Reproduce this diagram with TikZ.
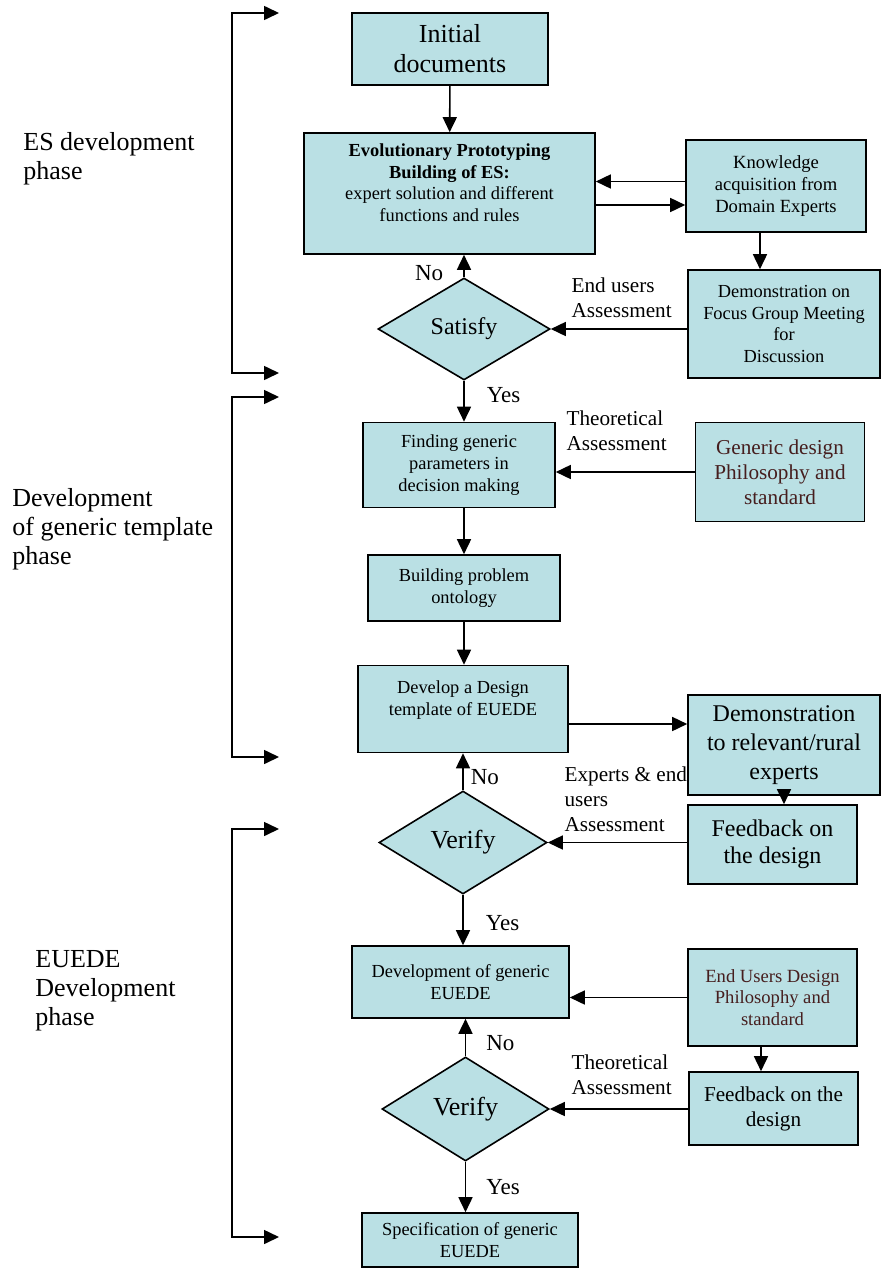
\documentclass[tikz,border=0pt]{standalone}
\usepackage{fontspec}
\setmainfont{Liberation Serif}
\usetikzlibrary{shapes.geometric,arrows.meta,positioning}
\definecolor{boxfill}{RGB}{186,224,228}
\definecolor{darkbrown}{RGB}{70,30,30}

\begin{document}
\begin{tikzpicture}[x=0.5pt,y=-0.5pt,
  box/.style={draw,line width=0.8pt,fill=boxfill,align=center,inner sep=1pt,font=\fontsize{9.2}{11}\selectfont},
  boxm/.style={box,font=\fontsize{10.6}{12.5}\selectfont},
  boxl/.style={box,font=\fontsize{12}{14.5}\selectfont},
  decide/.style={diamond,draw,line width=0.8pt,fill=boxfill,inner sep=0pt,font=\fontsize{13}{15}\selectfont},
  arr/.style={-{Triangle[width=7pt,length=7.5pt]},line width=0.8pt},
  brk/.style={{Triangle[width=7pt,length=7.5pt]}-{Triangle[width=7pt,length=7.5pt]},line width=0.8pt},
  lbl/.style={font=\fontsize{10.6}{12.5}\selectfont,inner sep=1pt,align=left},
  yn/.style={font=\fontsize{11.5}{13}\selectfont,inner sep=1pt},
  phase/.style={font=\fontsize{13}{14.5}\selectfont,align=left,anchor=north west,inner sep=0pt}
]
\useasboundingbox (0,0) rectangle (882,1269);

% ES development phase
\node[box,font=\fontsize{13}{15}\selectfont,minimum width=98pt,minimum height=36pt] (init) at (450,49) {Initial\\documents};
\node[box,font=\fontsize{9.2}{10.8}\selectfont,minimum width=145.5pt,minimum height=60.5pt] (proto) at (449.5,193.5)
  {\textbf{Evolutionary Prototyping}\\\textbf{Building of ES:}\\expert solution and different\\functions and rules\\\mbox{}};
\node[box,font=\fontsize{9.3}{10.8}\selectfont,minimum width=90pt,minimum height=46pt] (know) at (776,186) {Knowledge\\acquisition from\\Domain Experts};
\node[box,font=\fontsize{9.2}{10.8}\selectfont,minimum width=96pt,minimum height=54pt] (focus) at (784,324) {Demonstration on\\Focus Group Meeting\\for\\Discussion};
\node[decide,font=\fontsize{12}{14}\selectfont,minimum width=86pt,minimum height=51pt] (sat) at (464,329) {Satisfy};

% generic template phase
\node[box,minimum width=96pt,minimum height=42.5pt] (find) at (459,465) {Finding generic\\parameters in\\decision making};
\node[boxm,text=darkbrown,minimum width=84.5pt,minimum height=49.5pt] (gen) at (780,472) {Generic design\\Philosophy and\\standard};
\node[box,minimum width=96pt,minimum height=33pt] (onto) at (464,588) {Building problem\\ontology};
\node[box,minimum width=105pt,minimum height=43.5pt] (tmpl) at (463,709) {Develop a Design\\template of EUEDE\\\mbox{}};
\node[boxl,minimum width=96pt,minimum height=50pt] (demo) at (784,745) {Demonstration\\to relevant/rural\\experts};
\node[decide,minimum width=84pt,minimum height=51.5pt] (ver1) at (463,842.5) {Verify};
\node[boxl,font=\fontsize{12}{13.5}\selectfont,minimum width=84.5pt,minimum height=39.5pt] (fb1) at (772.5,844.5) {Feedback on\\the design};

% EUEDE development phase
\node[box,minimum width=108.5pt,minimum height=36pt] (dev) at (460.5,982) {Development of generic\\EUEDE};
\node[box,text=darkbrown,font=\fontsize{9.3}{10.6}\selectfont,minimum width=84.5pt,minimum height=48.5pt] (eud) at (772.5,997.5) {End Users Design\\Philosophy and\\standard};
\node[boxm,minimum width=84.5pt,minimum height=36.5pt] (fb2) at (773.5,1108.5) {Feedback on the\\design};
\node[decide,minimum width=83.5pt,minimum height=52pt] (ver2) at (465.5,1109) {Verify};
\node[box,minimum width=108pt,minimum height=27pt] (spec) at (470,1240) {Specification of generic\\EUEDE};

% phase labels and brackets
\node[phase] (esph) at (23,132) {ES development\\phase};
\node[phase] (genph) at (12,488) {Development\\of generic template\\phase};
\node[phase] (euph) at (35,950) {EUEDE\\Development\\phase};
\foreach \top/\bot in {13/373,397/757,829/1237}
  \draw[brk] (279,\top) -- (232,\top) -- (232,\bot) -- (279,\bot);

% connectors
\draw[arr] (init) -- (proto);
\draw[arr] ([yshift=6pt]know.west |- proto.east) -- ([yshift=6pt]proto.east);
\draw[arr] ([yshift=-5.75pt]proto.east) -- ([yshift=-5.75pt]proto.east -| know.west);
\draw[arr] ([xshift=-8pt]know.south) -- ([xshift=-8pt]know.south |- focus.north);
\draw[arr] (sat.north) -- (sat.north |- proto.south) node[yn,pos=0.17,left=9pt]{No};
\draw[arr] (focus.west |- sat.east) -- (sat.east)
  node[lbl,pos=1,anchor=south west,xshift=9pt,yshift=4pt]{End users\\Assessment};
\draw[arr] (sat.south) -- (sat.south |- find.north) node[yn,pos=0.36,right=10pt]{Yes};
\draw[arr] (gen.west) -- (gen.west -| find.east)
  node[lbl,pos=1,anchor=south west,xshift=4pt,yshift=9pt]{Theoretical\\Assessment};
\draw[arr] (onto.north |- find.south) -- (onto.north);
\draw[arr] (onto.south) -- (onto.south |- tmpl.north);
\draw[arr] ([yshift=-7.5pt]tmpl.east) -- ([yshift=-7.5pt]tmpl.east -| demo.west);
\draw[arr] (demo.south) -- (demo.south |- fb1.north);
\draw[arr] (fb1.west |- ver1.east) -- (ver1.east)
  node[lbl,pos=1,anchor=south west,xshift=7pt,yshift=4pt]{Experts \& end\\users\\Assessment};
\draw[arr] (ver1.north) -- (ver1.north |- tmpl.south) node[yn,pos=0.36,right=2.5pt]{No};
\draw[arr] (ver1.south) -- (ver1.south |- dev.north) node[yn,pos=0.56,right=10pt]{Yes};
\draw[arr] (eud.west) -- (eud.west -| dev.east);
\draw[arr] ([xshift=-5.75pt]eud.south) -- ([xshift=-5.75pt]eud.south |- fb2.north);
\draw[arr] (fb2.west |- ver2.east) -- (ver2.east)
  node[lbl,pos=1,anchor=south west,xshift=9.5pt,yshift=6pt]{Theoretical\\Assessment};
\draw[arr] (ver2.north) -- (ver2.north |- dev.south) node[yn,pos=0.36,right=9pt]{No};
\draw[arr] (ver2.south) -- (ver2.south |- spec.north) node[yn,pos=0.5,right=9pt]{Yes};
\end{tikzpicture}
\end{document}
